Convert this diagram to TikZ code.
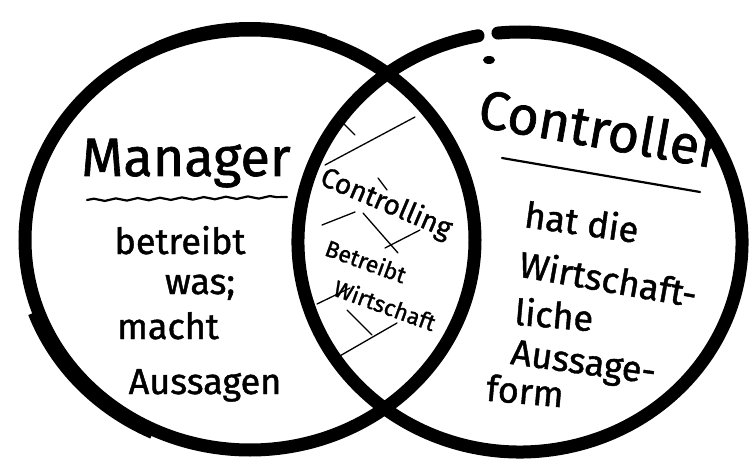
\documentclass[tikz,border=0pt]{standalone}
\usepackage{fontspec}
\setmainfont{Fira Sans}[FakeBold=1.2]
\usetikzlibrary{decorations.pathmorphing}
\tikzset{
  ring/.style={line width=13pt, black, line cap=round},
  hatch/.style={line width=1.3pt, black, line cap=round},
  uline/.style={line width=2.2pt, black, line cap=round},
  big/.style={font=\fontsize{54pt}{60pt}\selectfont},
  mid/.style={font=\fontsize{36pt}{40pt}\selectfont, inner sep=0pt},
  small/.style={font=\fontsize{23pt}{26pt}\selectfont, inner sep=0pt},
}
\begin{document}
\begin{tikzpicture}[x=1pt,y=1pt]
\useasboundingbox (0,0) rectangle (752,464);
\fill[white] (0,0) rectangle (752,464);
% left circle (Manager)
\draw[ring] (250,224) ellipse [x radius=225pt, y radius=210pt];
% extra strokes for hand-drawn look
\draw[line width=6pt] ([shift={(200:233pt and 216pt)}]250,224) arc[start angle=200, end angle=245, x radius=233pt, y radius=216pt];
\draw[line width=8pt] ([shift={(70:222pt and 214pt)}]250,224) arc[start angle=70, end angle=115, x radius=222pt, y radius=214pt];
% right circle (Controller), open at the top
\draw[ring] ([shift={(100.9:222pt and 210pt)}]520,222) arc[start angle=100.9, end angle=455.7, x radius=222pt, y radius=210pt];
\fill (489,404) ellipse [x radius=6pt, y radius=4pt];
% hatching in the lens
\draw[hatch] (325,299) -- (415,347);
\draw[hatch] (337,347) -- (355,329);
\draw[hatch] (322,239) -- (355,252);
\draw[hatch] (378,286) -- (387,274);
\draw[hatch] (363,251) -- (398,211);
\draw[hatch] (385,216) -- (420,234);
\draw[hatch] (317,160) -- (350,176);
\draw[hatch] (347,154) -- (372,129);
\draw[hatch] (338,107) -- (397,141);
% texts
\node[big, anchor=base] (mgr) at (186,288) {Manager};
\draw[uline, decorate, decoration={snake, amplitude=1.2pt, segment length=22pt}] (87,264) -- (287,267);
\node[mid, anchor=base] (l1) at (180,210) {betreibt};
\node[mid, anchor=base] (l2) at (200,170) {was;};
\node[mid, anchor=base] (l3) at (168,125) {macht};
\node[mid, anchor=base] (l4) at (205,70) {Aussagen};

\node[big, rotate=-10] (ctr) at (600,336) {Controller};
\draw[uline] (502,306) -- (700,272);
\node[mid, anchor=base, rotate=-8] (r1) at (580,229) {hat die};
\node[mid, anchor=base, rotate=-10] (r2) at (606,172) {Wirtschaft-};
\node[mid, anchor=base, rotate=-5] (r3) at (553,136) {liche};
\node[mid, anchor=base, rotate=-8] (r4) at (582,90) {Aussage-};
\node[mid, anchor=base, rotate=-5] (r5) at (524,60) {form};

\node[small, font=\fontsize{28pt}{30pt}\selectfont, rotate=-23] (c1) at (386,260) {Controlling};
\node[small, rotate=-20] (c2) at (366,203) {Betreibt};
\node[small, rotate=-20] (c3) at (385,159) {Wirtschaft};
\end{tikzpicture}
\end{document}
